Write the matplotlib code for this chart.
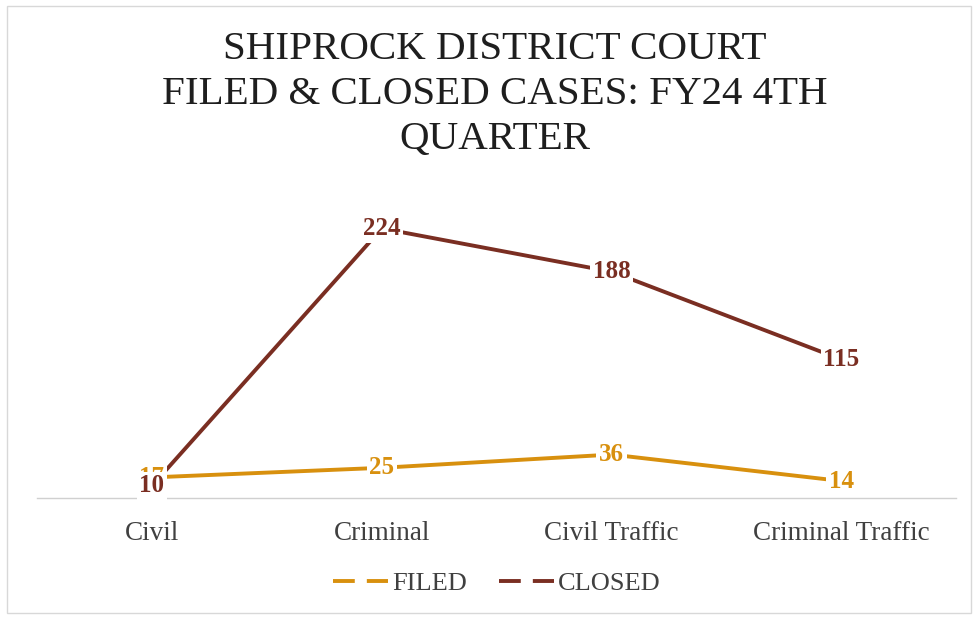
import numpy as np
import matplotlib
matplotlib.use('Agg')
import matplotlib.pyplot as plt
from matplotlib.lines import Line2D
from matplotlib.patches import Rectangle

categorias = ['Civil', 'Criminal', 'Civil Traffic', 'Criminal Traffic']
filed = [17, 25, 36, 14]
closed = [10, 224, 188, 115]
titulo = "SHIPROCK DISTRICT COURT\nFILED & CLOSED CASES: FY24 4TH\nQUARTER"

col_filed = '#D8900E'
col_closed = '#7A2E22'

plt.rcParams['font.family'] = ['Liberation Serif', 'DejaVu Serif']

fig = plt.figure(figsize=(9.74, 6.2), dpi=100)
fig.patches.append(Rectangle((0.007, 0.011), 0.99, 0.98, transform=fig.transFigure,
                             fill=False, edgecolor='#d8d8d8', lw=1))
ax = fig.add_axes([0.038, 0.197, 0.944, 0.485])

x = np.arange(len(categorias))
ax.plot(x, filed, color=col_filed, lw=2.8, solid_capstyle='butt', zorder=2)
ax.plot(x, closed, color=col_closed, lw=2.8, solid_capstyle='butt', zorder=2)

for xi, v in zip(x, filed):
    ax.text(xi, v, str(v), color=col_filed, fontsize=18, fontweight='bold',
            ha='center', va='center', zorder=3,
            bbox=dict(facecolor='white', edgecolor='none', pad=2))
for xi, v in zip(x, closed):
    ax.text(xi, v, str(v), color=col_closed, fontsize=18, fontweight='bold',
            ha='center', va='center', zorder=4,
            bbox=dict(facecolor='white', edgecolor='none', pad=2))

ax.set_xlim(-0.5, 3.5)
ax.set_ylim(0, 250)
ax.set_yticks([])
ax.set_xticks(x)
ax.set_xticklabels(categorias, fontsize=19.5, color='#404040')
ax.tick_params(axis='x', length=0, pad=17)
for s in ['top', 'right', 'left']:
    ax.spines[s].set_visible(False)
ax.spines['bottom'].set_color('#d0d0d0')
ax.spines['bottom'].set_linewidth(1)
ax.spines['bottom'].set_zorder(1)

fig.text(0.508, 0.950, titulo, ha='center', va='top', fontsize=29.5,
         color='#1e1e1e', linespacing=1.28)

handles = [Line2D([], [], color=col_filed, lw=2.8, ls=(0, (5.6, 3.1))),
           Line2D([], [], color=col_closed, lw=2.8, ls=(0, (5.6, 3.1)))]
fig.legend(handles, ['FILED', 'CLOSED'], loc='center', bbox_to_anchor=(0.51, 0.059),
           ncol=2, frameon=False, fontsize=19, handlelength=2.1, handletextpad=0.15,
           columnspacing=1.2, labelcolor='#404040')

fig.savefig('out.png', dpi=100)
